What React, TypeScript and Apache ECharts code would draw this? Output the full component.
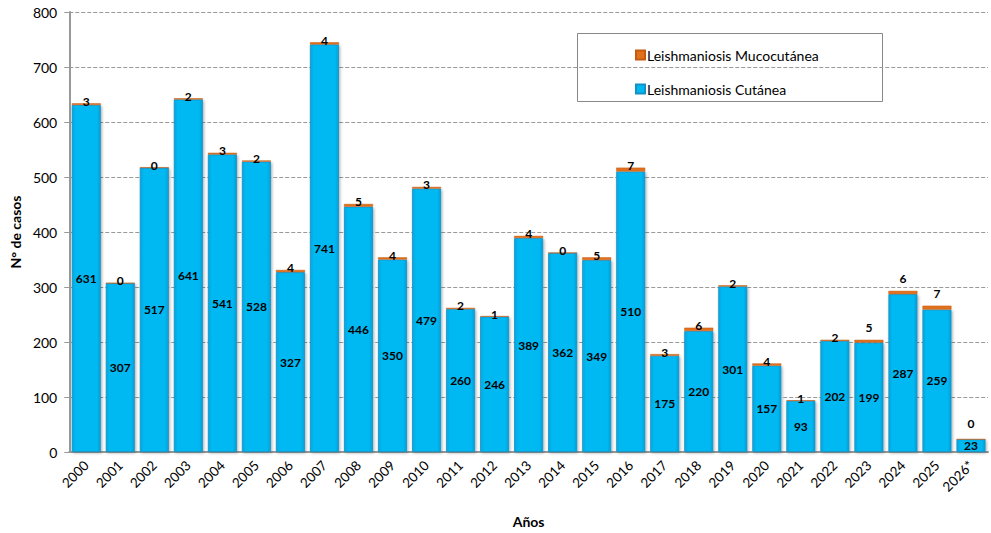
import React, { useEffect, useRef } from "react";
import * as echarts from "echarts";

const years = ["2000","2001","2002","2003","2004","2005","2006","2007","2008","2009","2010","2011","2012","2013","2014","2015","2016","2017","2018","2019","2020","2021","2022","2023","2024","2025","2026*"];
const cutanea = [631,307,517,641,541,528,327,741,446,350,479,260,246,389,362,349,510,175,220,301,157,93,202,199,287,259,23];
const mucocutanea = [3,0,0,2,3,2,4,4,5,4,3,2,1,4,0,5,7,3,6,2,4,1,2,5,6,7,0];
const yTicks = [0,100,200,300,400,500,600,700,800];
const raisedLabelYears = ["2023","2024","2025"];
const extraRaisedYears = ["2026*"];

const FONT = "Lato, 'Open Sans', sans-serif";

export default function App() {
  const ref = useRef<HTMLDivElement>(null);
  useEffect(() => {
    document.body.style.margin = "0";
    const chart = echarts.init(ref.current!, undefined, { renderer: "svg" });
    const mucoData = mucocutanea.map((v, i) => {
      const y = years[i];
      let distance = -4;
      if (raisedLabelYears.includes(y)) distance = 6;
      if (extraRaisedYears.includes(y)) distance = 10;
      return { value: v, label: { distance } };
    });
    chart.setOption({
      animation: false,
      textStyle: { fontFamily: FONT },
      grid: { left: 69, right: 3, top: 12, bottom: 81, containLabel: false },
      legend: {
        orient: "vertical",
        left: 630,
        top: 43,
        itemGap: 20,
        itemWidth: 9,
        itemHeight: 9,
        icon: "rect",
        data: ["Leishmaniosis Mucocutánea", "Leishmaniosis Cutánea"],
        textStyle: { fontSize: 14, color: "#000", fontFamily: FONT, padding: [0, 0, 0, -3] },
      },
      graphic: [
        {
          type: "rect",
          left: 577,
          top: 33,
          shape: { width: 305, height: 68 },
          style: { fill: "#fff", stroke: "#888", lineWidth: 1 },
          z: 0,
        },
      ],
      xAxis: {
        type: "category",
        data: years,
        name: "Años",
        nameLocation: "middle",
        nameGap: 62,
        nameTextStyle: { fontWeight: "bold", fontSize: 14, color: "#000", fontFamily: FONT },
        axisLine: { lineStyle: { color: "#999", width: 2 } },
        axisTick: { show: false },
        axisLabel: { rotate: 45, fontSize: 13.5, color: "#000", margin: 11, interval: 0, fontFamily: FONT },
      },
      yAxis: {
        type: "value",
        min: yTicks[0],
        max: yTicks[yTicks.length - 1],
        interval: 100,
        name: "N° de casos",
        nameLocation: "middle",
        nameGap: 46,
        nameTextStyle: { fontWeight: "bold", fontSize: 14, color: "#000", fontFamily: FONT },
        axisLine: { show: true, lineStyle: { color: "#999", width: 2 } },
        axisTick: { show: true, inside: false, length: 5, lineStyle: { color: "#999" } },
        axisLabel: { fontSize: 14, color: "#000", margin: 12, fontFamily: FONT },
        splitLine: { lineStyle: { type: "dashed", color: "#999", width: 1 } },
      },
      series: [
        {
          name: "Leishmaniosis Cutánea",
          type: "bar",
          stack: "total",
          barWidth: 29,
          data: cutanea,
          itemStyle: {
            color: new echarts.graphic.LinearGradient(0, 0, 1, 0, [
              { offset: 0, color: "#0aa6dc" },
              { offset: 0.12, color: "#00b8f2" },
              { offset: 0.88, color: "#00b8f2" },
              { offset: 1, color: "#0a9fd4" },
            ]),
            borderColor: "#1790c4",
            borderWidth: 0.8,
            shadowColor: "rgba(0,0,0,0.35)",
            shadowBlur: 3,
            shadowOffsetX: 1,
            shadowOffsetY: 1,
          },
          label: {
            show: true,
            position: "inside",
            fontWeight: "bold",
            fontSize: 12,
            color: "#000",
            fontFamily: FONT,
          },
        },
        {
          name: "Leishmaniosis Mucocutánea",
          type: "bar",
          stack: "total",
          barWidth: 29,
          data: mucoData,
          itemStyle: { color: "#e2711d", borderColor: "#c55a11", borderWidth: 0.5 },
          label: {
            show: true,
            position: "top",
            fontWeight: "bold",
            fontSize: 12,
            color: "#000",
            fontFamily: FONT,
          },
        },
      ],
    });
    return () => chart.dispose();
  }, []);
  return <div ref={ref} style={{ width: 991, height: 533 }} />;
}
